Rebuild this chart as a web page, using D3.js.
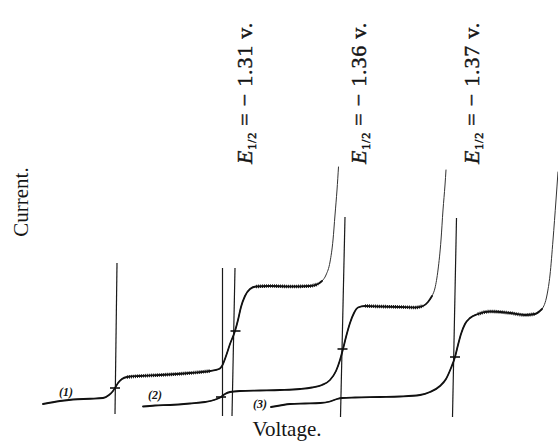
<!DOCTYPE html>
<html>
<head>
<meta charset="utf-8">
<script src="https://cdn.jsdelivr.net/npm/d3@7/dist/d3.min.js"></script>
<style>
  html, body { margin: 0; padding: 0; background: #fff; }
  svg { display: block; }
  text { font-family: "Liberation Serif", "DejaVu Serif", serif; fill: #151515; }
</style>
</head>
<body>
<div id="chart"></div>
<script>
// Polarographic waves, three solutions, traced on a shared voltage sweep.
// Coordinates are in chart units: voltage sweep (x) and galvanometer current (y).
const curve1 = [
  [0.6, 6.4], [4, 7.6], [6.6, 8.2], [10, 8.5], [12.6, 8.8], [13.8, 10], [14.6, 11.6],
  [15, 12.8], [15.6, 14.8], [16.4, 16.4], [17.4, 17.2], [20, 17.6], [24, 18], [30, 18.8],
  [34, 19.6], [35.8, 20.4], [36.4, 21.6], [37.2, 25.6], [38, 30.4], [39, 35.6], [39.6, 40],
  [40.2, 45.2], [41, 49.6], [42, 52.4], [43.2, 53.4], [46, 53.6], [50, 53.4], [54, 53.6],
  [55.6, 54.4], [56.4, 55.6], [57.2, 58], [58, 63.2], [58.6, 72], [59, 82], [59.4, 92],
  [59.7, 101.2]
];
const curve2 = [
  [20.6, 5.4], [23, 5.8], [26, 6], [30, 6.6], [33, 7.2], [34.8, 8], [35.6, 8.6], [36.2, 9.2],
  [37, 10.4], [38, 11.2], [40, 11.6], [44, 11.8], [48, 12], [52, 12.4], [54.4, 13], [56.4, 14],
  [58, 16], [59.2, 19.6], [60, 24], [60.6, 28.4], [61.2, 33.2], [62, 38.8], [62.8, 42.8],
  [63.6, 45], [65, 45.6], [68, 45.4], [72, 45.2], [75, 45], [76.6, 45.6], [77.6, 47.2],
  [78.4, 49.6], [79, 52.8], [79.6, 60], [80.2, 72], [80.6, 84], [81, 94], [81.2, 100]
];
const curve3 = [
  [46.2, 5.2], [48, 5.8], [50, 6.4], [53, 6.6], [56, 6.8], [58, 7.4], [59.4, 8.4], [60.4, 8.8],
  [63, 9], [68, 9.2], [72, 9.4], [76, 10], [78, 11.2], [80, 13.6], [81.2, 16.4], [82.2, 20.8],
  [83, 25.2], [83.6, 30], [84.2, 34.4], [85, 38.4], [86, 40.8], [87.6, 42.4], [90, 43.4],
  [94, 42.8], [97, 42], [99, 42.4], [100.4, 44.4], [101.4, 50], [102, 58], [102.6, 72],
  [103.2, 88], [103.6, 99.2]
];
const curves = [curve1, curve2, curve3];
const curveNames = ["(1)", "(2)", "(3)"];
const curveNameAt = [[5.2, 9.8], [23, 8.4], [44, 4.8]];
// where the final decomposition rise begins on each trace
const finalRiseFrom = [57, 78.4, 101.2];
// limiting-current plateaus that show the drop oscillation
const plateaus = [[[17, 35.6], [42.6, 56]], [[63.8, 76.8]], [[86.4, 99.8]]];

// half-wave potential construction lines: [xTop, xBottom, yTop, yBottom]
const halfWaveLines = [
  [15.4, 15.0, 62.8, 2.4],
  [36.5, 36.5, 60.8, 1.6],
  [39.0, 38.4, 60.8, 1.6],
  [61.0, 60.1, 81.2, 1.2],
  [83.3, 82.5, 80.8, 1.2]
];
const halfWaveMarks = [[15, 12.8], [36.2, 9.2], [39.1, 35.6], [60.5, 28.4], [83, 25.2]];
const potentials = ["1.31", "1.36", "1.37"];
const potentialAt = [42.4, 65.2, 87.8];

const width = 558, height = 442;
const x = d3.scaleLinear().domain([0, 104]).range([40, 560]);
const y = d3.scaleLinear().domain([0, 104]).range([420, 160]);

const svg = d3.select("#chart").append("svg")
  .attr("width", width).attr("height", height)
  .attr("viewBox", [0, 0, width, height]);
svg.append("rect").attr("width", width).attr("height", height).attr("fill", "#fff");

const line = d3.line().x(d => x(d[0])).y(d => y(d[1])).curve(d3.curveMonotoneX);

// construction lines
svg.append("g").selectAll("line").data(halfWaveLines).join("line")
  .attr("x1", d => x(d[0])).attr("y1", d => y(d[2]))
  .attr("x2", d => x(d[1])).attr("y2", d => y(d[3]))
  .attr("stroke", "#1a1a1a").attr("stroke-width", 1.2);

const traces = svg.append("g").attr("fill", "none").attr("stroke-linejoin", "round").attr("stroke-linecap", "round");
curves.forEach((c, i) => {
  // thin final rise
  traces.append("path").attr("d", line(c)).attr("stroke", "#333").attr("stroke-width", 1.0);
  // heavier lower part of the trace
  const lower = c.filter(p => p[0] <= finalRiseFrom[i] + 0.01);
  traces.append("path").attr("d", line(lower)).attr("stroke", "#111").attr("stroke-width", 1.8);
  // drop oscillation on the plateaus
  plateaus[i].forEach(r => {
    const seg = c.filter(p => p[0] >= r[0] - 0.01 && p[0] <= r[1] + 0.01);
    traces.append("path").attr("d", line(seg))
      .attr("stroke", "#111").attr("stroke-width", 3.6)
      .attr("stroke-linecap", "butt")
      .attr("stroke-dasharray", "0.9 1.1");
  });
});

// half-wave marks
svg.append("g").selectAll("line").data(halfWaveMarks).join("line")
  .attr("x1", d => x(d[0]) - 5).attr("x2", d => x(d[0]) + 5)
  .attr("y1", d => y(d[1])).attr("y2", d => y(d[1]))
  .attr("stroke", "#111").attr("stroke-width", 1.6);

// trace numbers
svg.append("g").selectAll("text").data(curveNames).join("text")
  .attr("x", (d, i) => x(curveNameAt[i][0])).attr("y", (d, i) => y(curveNameAt[i][1]))
  .attr("text-anchor", "middle")
  .style("font-style", "italic").style("font-size", "12px").style("font-weight", "bold")
  .text(d => d);

// half-wave potential labels, reading upward
potentials.forEach((v, i) => {
  const t = svg.append("text")
    .attr("transform", `translate(${x(potentialAt[i])},164) rotate(-90)`)
    .style("font-size", "22px").style("letter-spacing", "0.8px")
    .attr("stroke", "#151515").attr("stroke-width", 0.45);
  t.append("tspan").style("font-style", "italic").text("E");
  t.append("tspan").attr("dy", 4).style("font-size", "12px").text("1/2");
  t.append("tspan").attr("dy", -4).text(" = \u2212 " + v + " v.");
});

// axis titles
svg.append("text").attr("transform", "translate(28,202) rotate(-90)")
  .attr("text-anchor", "middle").style("font-size", "21px").text("Current.");
svg.append("text").attr("x", 287).attr("y", 436)
  .attr("text-anchor", "middle").style("font-size", "21px").text("Voltage.");
</script>
</body>
</html>
